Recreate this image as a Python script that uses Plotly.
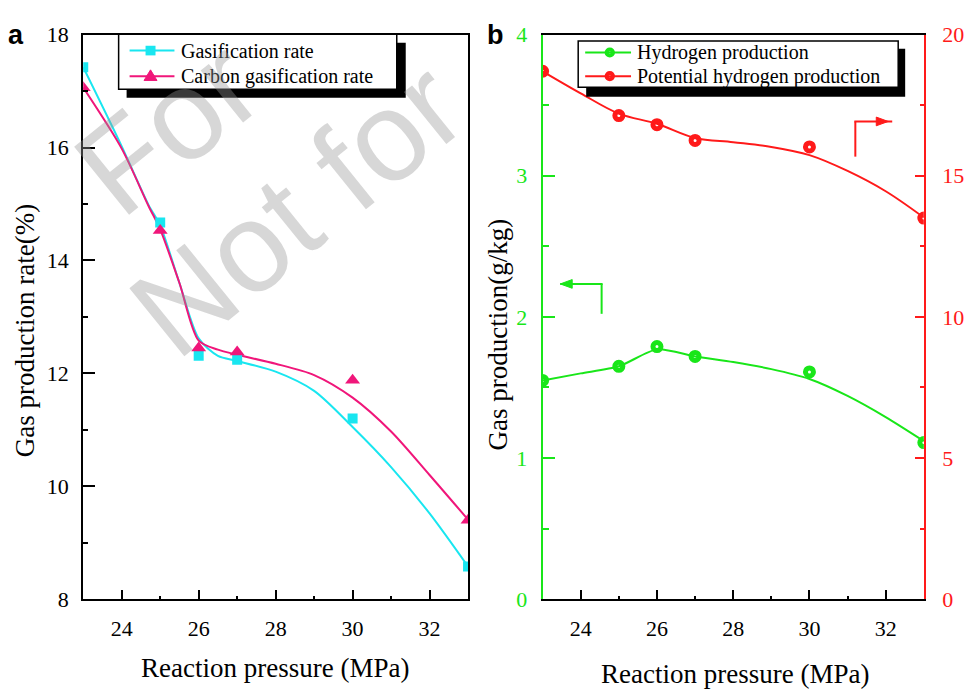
import plotly.graph_objects as go

# ---------------- data ----------------
pressure = [23, 25, 26, 27, 30, 33]

gasification_rate = [17.42, 14.67, 12.31, 12.24, 11.20, 8.58]
carbon_gasification_rate = [17.06, 14.53, 12.45, 12.38, 11.88, 9.40]

hydrogen = [1.55, 1.65, 1.79, 1.72, 1.61, 1.11]
potential_hydrogen = [18.70, 17.13, 16.81, 16.25, 16.02, 13.50]

# smoothed trend curves
fit_x_a = [23, 24, 24.7, 25, 25.5, 26, 26.5, 27, 28, 29, 30, 31, 32, 33]
fit_gas = [17.42, 16.02, 14.98, 14.62, 13.60, 12.62, 12.31, 12.22, 12.03, 11.69, 11.05, 10.34, 9.52, 8.58]
fit_carbon = [17.06, 15.98, 14.96, 14.55, 13.60, 12.58, 12.42, 12.33, 12.17, 11.97, 11.57, 10.97, 10.20, 9.41]

fit_x_b = [23, 24, 25, 26, 27, 28, 29, 30, 31, 32, 33]
fit_hydrogen = [1.55, 1.60, 1.65, 1.77, 1.72, 1.68, 1.63, 1.56, 1.44, 1.29, 1.12]
fit_potential = [18.70, 17.92, 17.20, 16.84, 16.34, 16.19, 16.02, 15.73, 15.17, 14.45, 13.52]

x_ticks = [24, 26, 28, 30, 32]

# ---------------- styling ----------------
W, H = 964, 700
CYAN = "#19e6f0"
PINK = "#f0167a"
GREEN = "#19e619"
RED = "#ff1a1a"
SERIF = "Liberation Serif"
SANS = "Liberation Sans"


def px(x):
    return x / W


def py(y):
    return 1 - y / H


fig = go.Figure()

# panel a
fig.add_trace(go.Scatter(x=fit_x_a, y=fit_gas, mode="lines", line=dict(color=CYAN, width=2, shape="spline", smoothing=0.8),
                         xaxis="x", yaxis="y", hoverinfo="skip"))
fig.add_trace(go.Scatter(x=fit_x_a, y=fit_carbon, mode="lines", line=dict(color=PINK, width=2, shape="spline", smoothing=0.8),
                         xaxis="x", yaxis="y", hoverinfo="skip"))
fig.add_trace(go.Scatter(x=pressure, y=gasification_rate, mode="markers", name="Gasification rate",
                         marker=dict(symbol="square", size=10, color=CYAN), xaxis="x", yaxis="y"))
fig.add_trace(go.Scatter(x=pressure, y=carbon_gasification_rate, mode="markers", name="Carbon gasification rate",
                         marker=dict(symbol="triangle-up", size=13, color=PINK), xaxis="x", yaxis="y"))

# panel b
fig.add_trace(go.Scatter(x=fit_x_b, y=fit_hydrogen, mode="lines", line=dict(color=GREEN, width=2, shape="spline", smoothing=0.7),
                         xaxis="x2", yaxis="y2", hoverinfo="skip"))
fig.add_trace(go.Scatter(x=pressure, y=hydrogen, mode="markers", name="Hydrogen production",
                         marker=dict(symbol="circle-open", size=8, color=GREEN, line=dict(width=5)),
                         xaxis="x2", yaxis="y2"))
fig.add_trace(go.Scatter(x=fit_x_b, y=fit_potential, mode="lines", line=dict(color=RED, width=2, shape="spline", smoothing=1.0),
                         xaxis="x2", yaxis="y3", hoverinfo="skip"))
fig.add_trace(go.Scatter(x=pressure, y=potential_hydrogen, mode="markers", name="Potential hydrogen production",
                         marker=dict(symbol="circle-open", size=8, color=RED, line=dict(width=5)),
                         xaxis="x2", yaxis="y3"))

# plot areas (pixels)
A_L, A_R = 83.5, 469.5
B_L, B_R = 544.3, 926.7
TOP, BOT = 23.4, 609.0

tickfont = dict(family=SERIF, size=22, color="black")

common_x = dict(range=[23, 33], tickvals=x_ticks, ticks="inside", ticklen=9, tickwidth=2, tickcolor="black",
                showline=True, linecolor="black", linewidth=2, mirror=True, showgrid=False, zeroline=False,
                tickfont=tickfont, ticklabelstandoff=8,
                minor=dict(ticks="inside", ticklen=3, tickwidth=2, dtick=1, tick0=23, tickcolor="black"))

fig.update_layout(
    width=W, height=H,
    margin=dict(l=0, r=0, t=0, b=0),
    paper_bgcolor="white", plot_bgcolor="white",
    showlegend=False,
    font=dict(family=SERIF),
    xaxis=dict(domain=[px(A_L), px(A_R)], anchor="y", **common_x),
    yaxis=dict(domain=[py(BOT), py(TOP)], anchor="x", range=[8, 18], tickvals=[8, 10, 12, 14, 16, 18],
               ticks="inside", ticklen=12, tickwidth=2, tickcolor="black",
               showline=True, linecolor="black", linewidth=2, mirror=True, showgrid=False, zeroline=False,
               tickfont=tickfont, ticklabelstandoff=8,
               minor=dict(ticks="inside", ticklen=5, tickwidth=2, dtick=1, tick0=8, tickcolor="black")),
    xaxis2=dict(domain=[px(B_L), px(B_R)], anchor="y2", **common_x),
    yaxis2=dict(domain=[py(BOT), py(TOP)], anchor="x2", range=[0, 4], tickvals=[0, 1, 2, 3, 4],
                ticks="inside", ticklen=12, tickwidth=2, tickcolor=GREEN,
                showline=True, linecolor=GREEN, linewidth=2, showgrid=False, zeroline=False,
                tickfont=dict(family=SERIF, size=22, color=GREEN), ticklabelstandoff=9,
                minor=dict(ticks="inside", ticklen=6, tickwidth=2, dtick=0.5, tick0=0, tickcolor=GREEN)),
    yaxis3=dict(overlaying="y2", anchor="x2", side="right", range=[0, 20], tickvals=[0, 5, 10, 15, 20],
                ticks="inside", ticklen=9, tickwidth=2, tickcolor=RED,
                showline=True, linecolor=RED, linewidth=2, showgrid=False, zeroline=False,
                tickfont=dict(family=SERIF, size=22, color=RED), ticklabelstandoff=12,
                minor=dict(ticks="inside", ticklen=4, tickwidth=2, dtick=2.5, tick0=0, tickcolor=RED)),
)

shapes = []
annotations = []


def rect(x0, y0, x1, y1, fill, line_color=None, lw=0):
    shapes.append(dict(type="rect", xref="paper", yref="paper", x0=px(x0), x1=px(x1), y0=py(y1), y1=py(y0),
                       fillcolor=fill, line=dict(color=line_color or fill, width=lw), layer="above"))


def seg(x0, y0, x1, y1, color, lw=2):
    shapes.append(dict(type="line", xref="paper", yref="paper", x0=px(x0), y0=py(y0), x1=px(x1), y1=py(y1),
                       line=dict(color=color, width=lw), layer="above"))


def poly(points, color):
    d = "M " + " L ".join(f"{px(x):.5f},{py(y):.5f}" for x, y in points) + " Z"
    shapes.append(dict(type="path", xref="paper", yref="paper", path=d, fillcolor=color,
                       line=dict(color=color, width=1), layer="above"))


def ring(cx, cy, r, color):
    shapes.append(dict(type="circle", xref="paper", yref="paper", x0=px(cx - r), x1=px(cx + r),
                       y0=py(cy + r), y1=py(cy - r), line=dict(color=color, width=4),
                       fillcolor="rgba(0,0,0,0)", layer="above"))


def text(x, y, s, size=20, color="black", family=SERIF, anchor="left", angle=0, bold=False):
    annotations.append(dict(xref="paper", yref="paper", x=px(x), y=py(y), text=f"<b>{s}</b>" if bold else s,
                            showarrow=False, xanchor=anchor, yanchor="middle", textangle=angle,
                            font=dict(family=family, size=size, color=color)))


# legend, panel a
rect(127, 32, 407, 89, "black")
rect(119, 23, 398, 80, "white", "black", 1.5)
seg(130, 40, 175, 40, CYAN)
rect(146, 35, 156, 45, CYAN)
text(180, 40, "Gasification rate")
seg(130, 66.5, 175, 66.5, PINK)
poly([(151, 60), (157.5, 71), (144.5, 71)], PINK)
text(180, 67, "Carbon gasification rate")

# legend, panel b
rect(588, 38, 908, 88, "black")
rect(580, 30, 901, 78, "white", "black", 1.5)
seg(587, 42, 633, 42, GREEN)
ring(611.7, 42, 3.2, GREEN)
text(637, 42, "Hydrogen production")
seg(587, 66.5, 633, 66.5, RED)
ring(611.7, 66.5, 3.2, RED)
text(637, 67, "Potential hydrogen production")

# axis-pointer arrows, panel b
seg(858, 150, 858, 113.5, RED)
seg(857, 113.5, 895, 113.5, RED)
poly([(891, 113.5), (879, 109), (879, 118)], RED)
seg(603.5, 313, 603.5, 282, GREEN)
seg(604.5, 282, 562, 282, GREEN)
poly([(562, 282), (574, 277.5), (574, 286.5)], GREEN)

# axis titles
text(276, 680, "Reaction pressure (MPa)", size=27, anchor="center")
text(737, 686, "Reaction pressure (MPa)", size=27, anchor="center")
text(25, 330, "Gas production rate(%)", size=27, anchor="center", angle=-90)
text(500, 334, "Gas production(g/kg)", size=27, anchor="center", angle=-90)

# panel letters
text(16, 24, "a", size=27, family=SANS, anchor="center", bold=True)
text(497, 24, "b", size=27, family=SANS, anchor="center", bold=True)

# watermark
WM = "rgba(150,150,150,0.38)"
text(168, 119, "For", size=127, color=WM, family=SANS, anchor="center", angle=-39)
text(297, 204, "Not for", size=127, color=WM, family=SANS, anchor="center", angle=-39)

fig.update_layout(shapes=shapes, annotations=annotations)
fig.write_html("out.html")
